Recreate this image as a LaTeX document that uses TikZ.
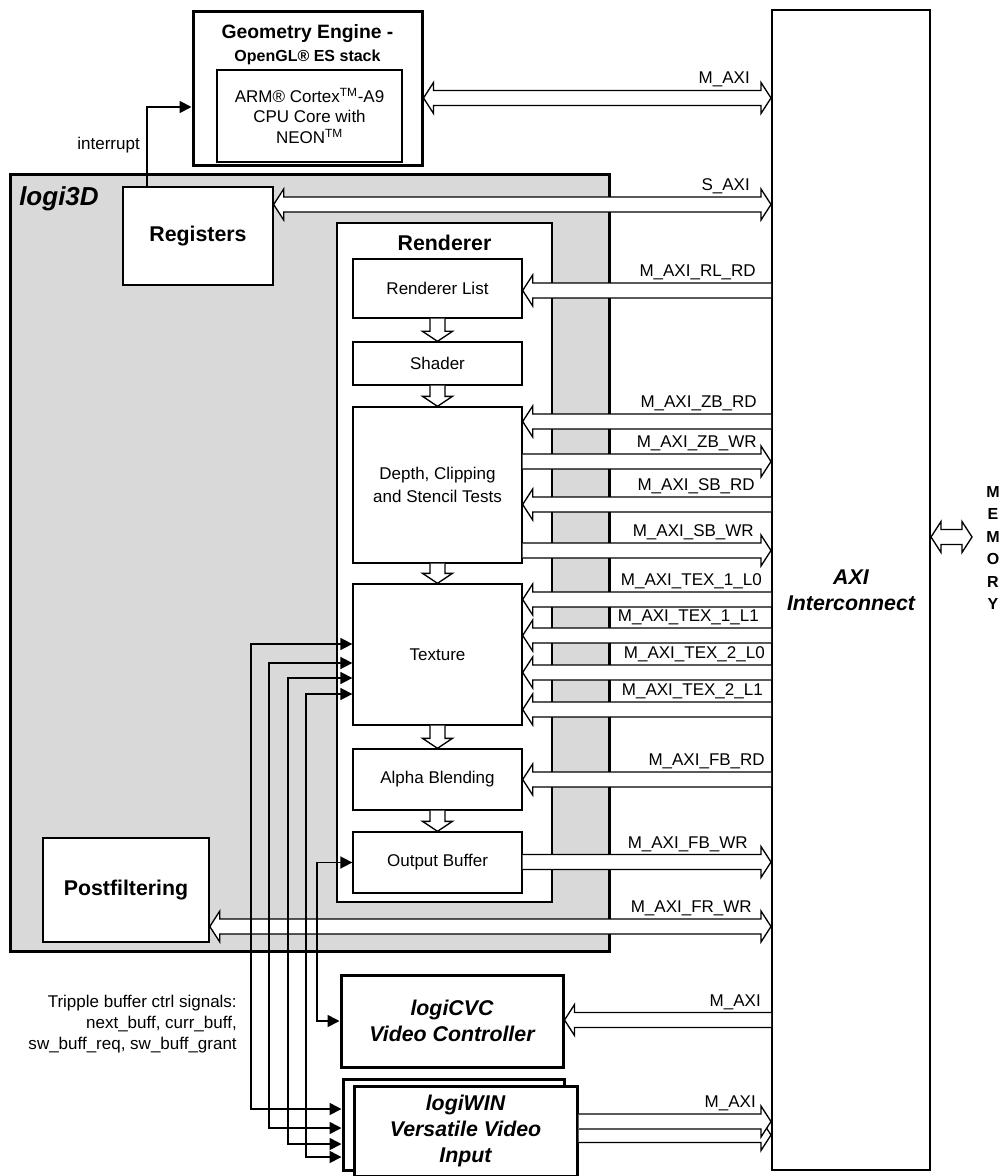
\documentclass[tikz,border=0pt]{standalone}
\usepackage{fontspec}
\setmainfont{Liberation Sans}
\usetikzlibrary{positioning, arrows.meta, calc}
\definecolor{ink}{RGB}{0,0,0}
\definecolor{panel}{RGB}{217,217,217}

\begin{document}
\begin{tikzpicture}[
  x=0.75pt, y=-0.75pt,
  blk/.style={draw=ink, fill=white, line width=1pt, inner sep=0pt, align=center,
              font=\fontsize{12.75}{15.5}\selectfont},
  hvy/.style={blk, line width=2.25pt},
  stage/.style={blk, minimum width=126.75pt},
  ttl/.style={font=\fontsize{16}{19.5}\selectfont\bfseries},
  emp/.style={font=\fontsize{16}{19.5}\selectfont\bfseries\itshape},
  txt/.style={inner sep=0pt, align=center, font=\fontsize{12.75}{15.5}\selectfont},
  lab/.style={txt, anchor=south east},
  sig/.style={<->, >={Triangle[length=9pt, width=9pt]}, draw=ink, line width=1.3pt},
  flow/.style={draw=ink, fill=white, line width=1pt, to path={
    let \p1=(\tikztostart), \p2=(\tikztotarget),
        \p3=($(\tikztotarget)!7.5pt!(\tikztostart)$) in
    (\x1+5.6pt,\y1) -- (\x1+5.6pt,\y3) -- (\x1+11.25pt,\y3) -- (\x2,\y2)
    -- (\x1-11.25pt,\y3) -- (\x1-5.6pt,\y3) -- (\x1-5.6pt,\y1)}},
  busr/.style={draw=ink, fill=white, line width=1pt, to path={
    let \p1=(\tikztostart), \p2=(\tikztotarget),
        \p3=($(\tikztotarget)!7.5pt!(\tikztostart)$) in
    (\x1,\y1+5.6pt) -- (\x3,\y1+5.6pt) -- (\x3,\y1+11.6pt) -- (\x2,\y1)
    -- (\x3,\y1-11.6pt) -- (\x3,\y1-5.6pt) -- (\x1,\y1-5.6pt)}},
  busd/.style={draw=ink, fill=white, line width=1pt, to path={
    let \p1=(\tikztostart), \p2=(\tikztotarget),
        \p3=($(\tikztotarget)!7.5pt!(\tikztostart)$),
        \p4=($(\tikztostart)!7.5pt!(\tikztotarget)$) in
    (\x4,\y1+5.6pt) -- (\x3,\y1+5.6pt) -- (\x3,\y1+11.6pt) -- (\x2,\y1)
    -- (\x3,\y1-11.6pt) -- (\x3,\y1-5.6pt) -- (\x4,\y1-5.6pt)
    -- (\x4,\y1-11.6pt) -- (\x1,\y1) -- (\x4,\y1+11.6pt) -- cycle}}]
  \useasboundingbox (0,0) rectangle (1000,1176);

  % blocks
  \node[hvy, minimum width=171.75pt, minimum height=115.5pt] (ge) at (307.5,89) {};
  \node[txt, font=\fontsize{14.5}{17}\selectfont\bfseries] (get) at (307.5,34) {Geometry Engine -};
  \node[txt, font=\fontsize{12}{14}\selectfont\bfseries] (ges) at (307.5,57) {OpenGL® ES stack};
  \node[hvy, line width=2pt, minimum width=138.75pt, minimum height=69pt] (arm) at (309.5,116)
    {ARM® Cortex\textsuperscript{TM}-A9\\CPU Core with\\NEON\textsuperscript{TM}};
  \node[hvy, fill=panel, minimum width=449.25pt, minimum height=582pt] (l3d) at (309.5,563) {};
  \node[txt, anchor=west, font=\fontsize{19.5}{22}\selectfont\bfseries\itshape] (l3dt) at (19,199) {logi3D};
  \node[blk, ttl, minimum width=112.5pt, minimum height=73.5pt] (reg) at (198,236) {Registers};
  \node[blk, minimum width=161.25pt, minimum height=509.25pt] (ren) at (444.5,562.5) {};
  \node[txt, ttl] (rent) at (444.5,243) {Renderer};
  \node[stage, minimum height=44.25pt] (rl) at (437.5,288.5) {Renderer List};
  \node[stage, minimum height=32.25pt] (sh) at (437.5,363.5) {Shader};
  \node[stage, minimum height=117pt] (dep) at (437.5,485) {Depth, Clipping\\[1.5pt]and Stencil Tests};
  \node[stage, minimum height=105.75pt] (tex) at (437.5,654.5) {Texture};
  \node[stage, minimum height=45.75pt] (ab) at (437.5,779.5) {Alpha Blending};
  \node[stage, minimum height=45.75pt] (ob) at (437.5,862.5) {Output Buffer};
  \node[blk, line width=1.2pt, ttl, minimum width=124.5pt, minimum height=78pt] (pf) at (126,890) {Postfiltering};
  \node[hvy, emp, minimum width=166.5pt, minimum height=69pt] (cvc) at (452,1021) {logiCVC\\Video Controller};
  \node[hvy, minimum width=165.75pt, minimum height=68.25pt] (winb) at (453.5,1124.5) {};
  \node[hvy, emp, minimum width=167.25pt, minimum height=67.5pt] (win) at (465.5,1131)
    {logiWIN\\Versatile Video\\Input};
  \node[blk, line width=1.5pt, emp, minimum width=118.5pt, minimum height=870pt] (ic) at (851,590)
    {AXI\\Interconnect};
  \node[txt, font=\fontsize{12}{16.8}\selectfont\bfseries] (mem) at (993,548) {M\\E\\M\\O\\R\\Y};
  \coordinate (mp) at (972,537);

  % renderer pipeline
  \draw[flow] (rl.south) to (sh.north);
  \draw[flow] (sh.south) to (dep.north);
  \draw[flow] (dep.south) to (tex.north);
  \draw[flow] (tex.south) to (ab.north);
  \draw[flow] (ab.south) to (ob.north);

  % AXI buses
  \draw[busd] (ge.east |- 0,98) to (ic.west |- 0,98);
  \draw[busd] (reg.east |- 0,204.5) to (ic.west |- 0,204.5);
  \draw[busr] (ic.west |- 0,290.5) to (rl.east |- 0,290.5);
  \draw[busr] (ic.west |- 0,421.5) to (dep.east |- 0,421.5);
  \draw[busr] (dep.east |- 0,461.5) to (ic.west |- 0,461.5);
  \draw[busr] (ic.west |- 0,504.5) to (dep.east |- 0,504.5);
  \draw[busr] (dep.east |- 0,550.5) to (ic.west |- 0,550.5);
  \draw[busr] (ic.west |- 0,599.5) to (tex.east |- 0,599.5);
  \draw[busr] (ic.west |- 0,635.5) to (tex.east |- 0,635.5);
  \draw[busr] (ic.west |- 0,672.5) to (tex.east |- 0,672.5);
  \draw[busr] (ic.west |- 0,709.5) to (tex.east |- 0,709.5);
  \draw[busr] (ic.west |- 0,779.5) to (ab.east |- 0,779.5);
  \draw[busr] (ob.east |- 0,862) to (ic.west |- 0,862);
  \draw[busd] (pf.east |- 0,926.5) to (ic.west |- 0,926.5);
  \draw[busr] (ic.west |- 0,1020) to (cvc.east |- 0,1020);
  \draw[busr] (win.east |- 0,1135) to (ic.west |- 0,1135);
  \draw[busr] (win.east |- 0,1121.5) to (ic.west |- 0,1121.5);
  \draw[busd] (ic.east |- mp) to (mp);

  \node[lab] (lma) at (750,87.5) {M\_AXI};
  \node[lab] (lsa) at (750,194.5) {S\_AXI};
  \node[lab] (lrl) at (756,280.5) {M\_AXI\_RL\_RD};
  \node[lab] (lzr) at (757,411.5) {M\_AXI\_ZB\_RD};
  \node[lab] (lzw) at (757,451.5) {M\_AXI\_ZB\_WR};
  \node[lab] (lsr) at (755,494.5) {M\_AXI\_SB\_RD};
  \node[lab] (lsw) at (754,540.5) {M\_AXI\_SB\_WR};
  \node[lab] (lt1) at (762,589.5) {M\_AXI\_TEX\_1\_L0};
  \node[lab] (lt2) at (759,625.5) {M\_AXI\_TEX\_1\_L1};
  \node[lab] (lt3) at (765,662.5) {M\_AXI\_TEX\_2\_L0};
  \node[lab] (lt4) at (763,699.5) {M\_AXI\_TEX\_2\_L1};
  \node[lab] (lfr) at (765,769.5) {M\_AXI\_FB\_RD};
  \node[lab] (lfw) at (748,852) {M\_AXI\_FB\_WR};
  \node[lab] (lpf) at (752,916.5) {M\_AXI\_FR\_WR};
  \node[lab] (lcv) at (761,1010) {M\_AXI};
  \node[lab] (lwn) at (756,1111.5) {M\_AXI};

  % control signals
  \draw[sig, ->] (reg.north -| 147,0) |- (ge.west |- 0,107);
  \node[txt, anchor=east] (irq) at (140,145) {interrupt};
  \draw[sig] (tex.west |- 0,644) -- (251,644) |- (winb.west |- 0,1109);
  \draw[sig] (tex.west |- 0,663) -- (269,663) |- (winb.west |- 0,1128);
  \draw[sig] (tex.west |- 0,678) -- (288,678) |- (winb.west |- 0,1144);
  \draw[sig] (tex.west |- 0,694) -- (306,694) |- (winb.west |- 0,1157);
  \draw[sig] (ob.west) -- ++(-35,0) |- (cvc.west);
  \node[txt, anchor=east, align=right] (tbs) at (237,1024)
    {Tripple buffer ctrl signals:\\next\_buff, curr\_buff,\\sw\_buff\_req, sw\_buff\_grant};
\end{tikzpicture}
\end{document}
